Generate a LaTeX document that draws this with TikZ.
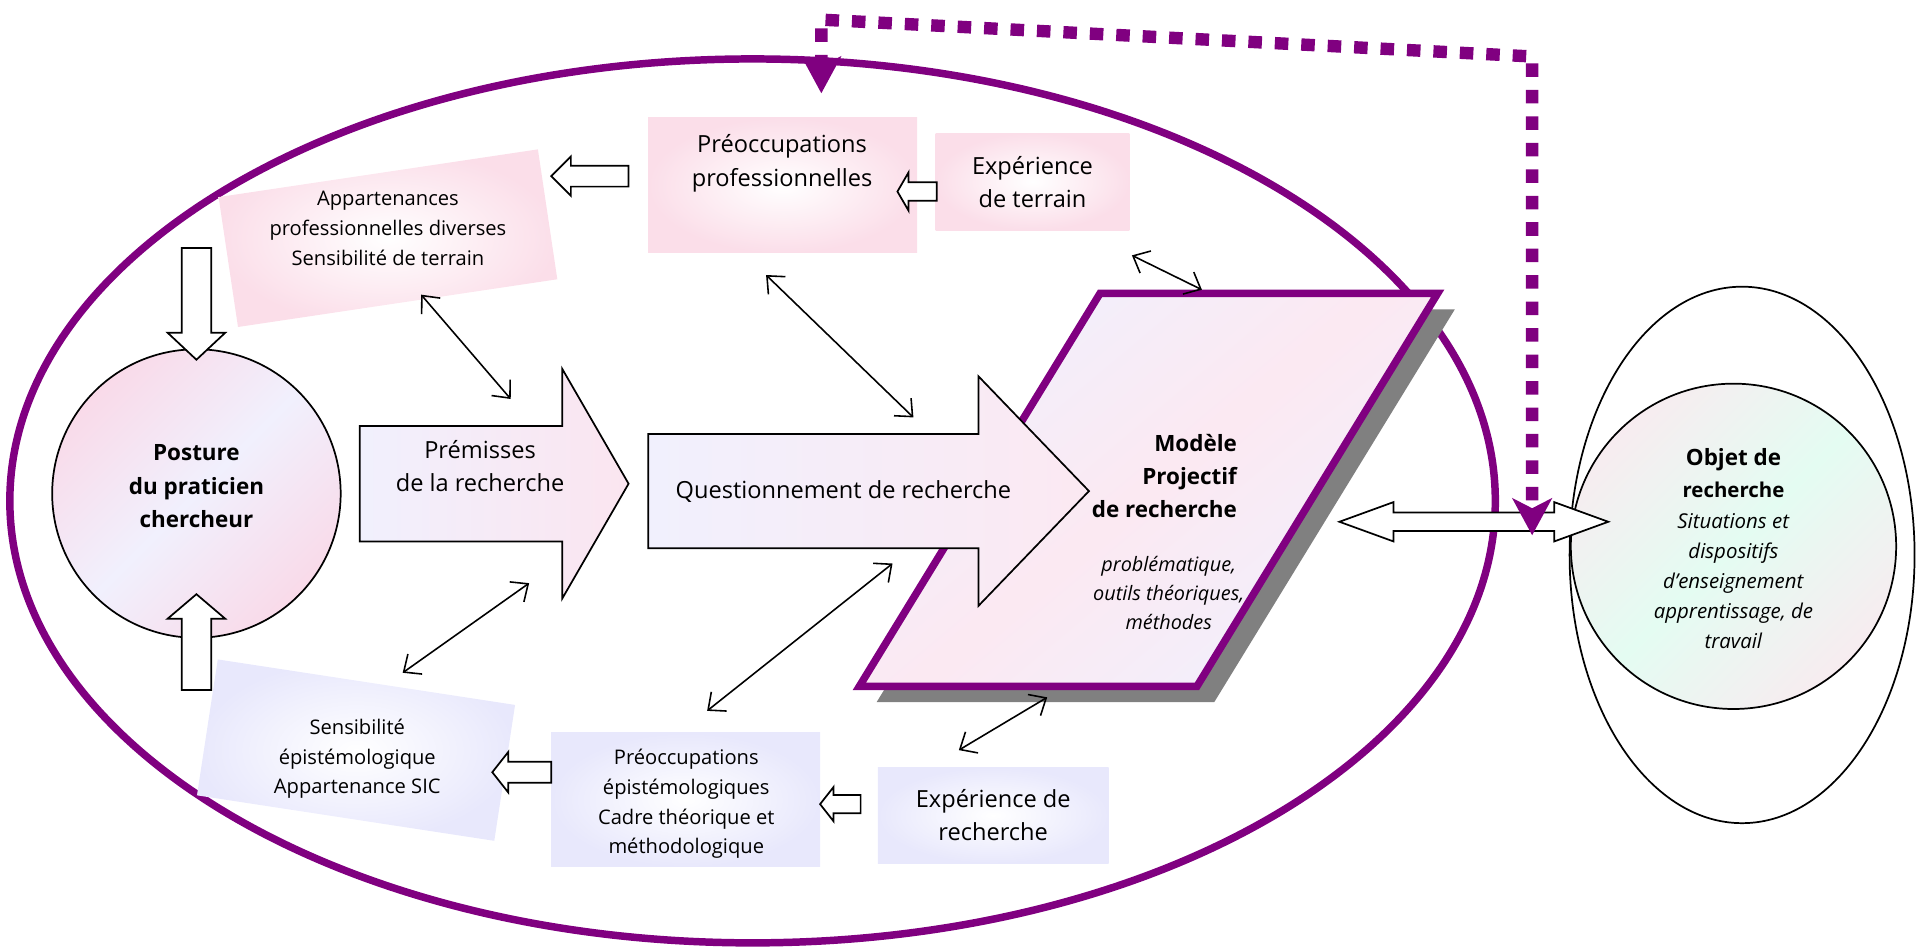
\documentclass[tikz,border=0pt]{standalone}
\usepackage{fontspec}
\setmainfont{Open Sans}
\usetikzlibrary{arrows.meta,shapes.geometric}

\definecolor{violetc}{RGB}{128,0,128}
\definecolor{ombre}{RGB}{128,128,128}
\definecolor{rose}{RGB}{251,222,233}
\definecolor{lavande}{RGB}{232,232,252}
\definecolor{roseP}{RGB}{249,218,233}
\definecolor{lavP}{RGB}{241,240,253}
\definecolor{menthe}{RGB}{228,252,242}
\definecolor{griserose}{RGB}{247,236,240}

\newcommand{\pu}{0.015cm}
% block arrow: style, tail, angle, length, head length, shaft half, head half
\newcommand{\blocfleche}[7]{%
  \draw[#1, shift={#2}, rotate=#3] (0,-#6) -- ({#4-#5},-#6) -- ({#4-#5},-#7) -- (#4,0)
    -- ({#4-#5},#7) -- ({#4-#5},#6) -- (0,#6) -- cycle;}

\tikzset{
  cadre/.style={ellipse, draw=violetc, line width=2.6pt, inner sep=0pt},
  boiterose/.style={inner color=white, outer color=rose, inner sep=0pt},
  boitelav/.style={inner color=white, outer color=lavande, inner sep=0pt},
  txt/.style={align=center, inner sep=0pt, font=\fontsize{8.2}{11.5}\selectfont},
  txtpetit/.style={align=center, inner sep=0pt, font=\fontsize{7}{10.3}\selectfont},
  txtgras/.style={align=center, inner sep=0pt, font=\fontsize{7.8}{11.5}\selectfont\bfseries},
  rond/.style={circle, draw, line width=0.6pt, inner sep=0pt},
  fleche/.style={draw, line width=0.6pt, fill=white},
  lien/.style={line width=0.55pt, {Straight Barb[length=1.7mm,width=3mm]}-{Straight Barb[length=1.7mm,width=3mm]}},
  retour/.style={draw=violetc, line width=4.3pt, dash pattern=on 4.7pt off 4.5pt,
    {Stealth[length=4.5mm,width=4.8mm,inset=1.2mm]}-{Stealth[length=4.5mm,width=4.8mm,inset=1.2mm]}},
}

\begin{document}
\begin{tikzpicture}[x=0.015cm, y=-0.015cm]
\useasboundingbox (0,0) rectangle (1568,772);

\node[cadre, minimum width=1210*\pu, minimum height=720*\pu] (cadre) at (613,408) {};
\node[ellipse, draw, line width=0.6pt, minimum width=281*\pu, minimum height=437*\pu, inner sep=0pt] (champ) at (1419,452) {};

% boites du haut
\node[boiterose, rotate=8.5, minimum width=263*\pu, minimum height=107*\pu] (appart) at (316,194) {};
\node[txtpetit] (appart-t) at (316,186) {Appartenances\\professionnelles diverses\\Sensibilité de terrain};
\node[boiterose, minimum width=219*\pu, minimum height=110*\pu] (preocpro) at (637.5,151) {};
\node[txt] (preocpro-t) at (637,133) {Préoccupations\\professionnelles};
\node[boiterose, txt, minimum width=158*\pu, minimum height=79*\pu] (expterr) at (841,148) {Expérience\\de terrain};

% boites du bas
\node[boitelav, rotate=-8.7, minimum width=245*\pu, minimum height=112*\pu] (sensep) at (290,611) {};
\node[txtpetit] (sensep-t) at (291,618) {Sensibilité\\épistémologique\\Appartenance SIC};
\node[boitelav, minimum width=219*\pu, minimum height=109*\pu] (preocep) at (558.5,651.5) {};
\node[txtpetit] (preocep-t) at (559,655) {Préoccupations\\épistémologiques\\Cadre théorique et\\méthodologique};
\node[boitelav, txt, minimum width=188*\pu, minimum height=78*\pu] (exprech) at (809,664) {Expérience de\\recherche};

% petites fleches
\blocfleche{fleche}{(512,143.5)}{180}{63}{16}{8.5}{16}
\blocfleche{fleche}{(763,156)}{180}{32}{9}{7.5}{15.5}
\blocfleche{fleche}{(449,629)}{180}{48}{13}{8.5}{16.5}
\blocfleche{fleche}{(701,655)}{180}{33}{11}{7.5}{14}

% posture
\node[rond, minimum size=235*\pu, top color=roseP, bottom color=roseP, middle color=lavP, shading angle=45] (posture) at (160,402) {};
\node[txtgras] (posture-t) at (160,396) {Posture\\du praticien\\chercheur};
\blocfleche{fleche}{(160,202)}{-90}{91}{22}{12}{23.5}
\blocfleche{fleche}{(160,562)}{90}{78}{20}{12}{23.5}

% premisses
\blocfleche{fleche, left color=lavP, right color=roseP!70}{(293,394)}{0}{219}{54}{47}{93.5}
\node[txt] (prem) at (391,380) {Prémisses\\de la recherche};

% modele projectif
\fill[ombre] (714,572) -- (989,572) -- (1185,252) -- (910,252) -- cycle;
\draw[violetc, line width=2.6pt, top color=lavP, bottom color=lavP, middle color=roseP!60, shading angle=40]
  (700,559) -- (975,559) -- (1171,239) -- (896,239) -- cycle;

% questionnement
\blocfleche{fleche, left color=lavP, right color=roseP!60}{(528,400)}{0}{359}{90}{46.5}{93.5}
\node[txt] (quest) at (687,400) {Questionnement de recherche};

\node[txtgras, anchor=east, align=right] (modele) at (1008,388) {Modèle\\Projectif\\de recherche};
\node[align=center, inner sep=0pt, font=\fontsize{6.9}{10}\selectfont\itshape] (modele-t) at (952,483) {problématique,\\outils théoriques,\\méthodes};

% objet de recherche
\node[rond, minimum size=265*\pu, top color=griserose, bottom color=griserose, middle color=menthe, shading angle=45] (objet) at (1412,445) {};
\node[align=center, inner sep=0pt, font=\fontsize{7.1}{10.4}\selectfont] (objet-t) at (1412,447)
  {\fontsize{7.8}{11.5}\selectfont\textbf{Objet de}\\[0.6pt]\textbf{recherche}\\[0.5pt]\textit{Situations et}\\\textit{dispositifs}\\\textit{d'enseignement}\\\textit{apprentissage, de}\\\textit{travail}};

\draw[fleche] (1091,425) -- (1135,409) -- (1135,417.5) -- (1266,417.5) -- (1266,409) -- (1310,425)
  -- (1266,441) -- (1266,432.5) -- (1135,432.5) -- (1135,441) -- cycle;

% liens
\coordinate (appart-s) at (343,240);
\coordinate (prem-n) at (416,325);
\coordinate (prem-s) at (431,475);
\coordinate (sensep-n) at (328,548);
\coordinate (preocpro-s) at (624,224);
\coordinate (quest-n) at (744,340);
\coordinate (expterr-s) at (922,208);
\coordinate (modele-n) at (979,236);
\coordinate (quest-s) at (727,459);
\coordinate (preocep-n) at (576,579);
\coordinate (modele-s) at (853,568);
\coordinate (exprech-n) at (781,611);

\path[lien] (appart-s) edge (prem-n);
\path[lien] (prem-s) edge (sensep-n);
\path[lien] (preocpro-s) edge (quest-n);
\path[lien] (expterr-s) edge (modele-n);
\path[lien] (quest-s) edge (preocep-n);
\path[lien] (modele-s) edge (exprech-n);

% retour
\coordinate (cadre-n) at (669,76);
\coordinate (objet-w) at (1248,436);
\draw[retour] (cadre-n) -- (669,16) -- (1248,46) -- (objet-w);
\end{tikzpicture}
\end{document}
